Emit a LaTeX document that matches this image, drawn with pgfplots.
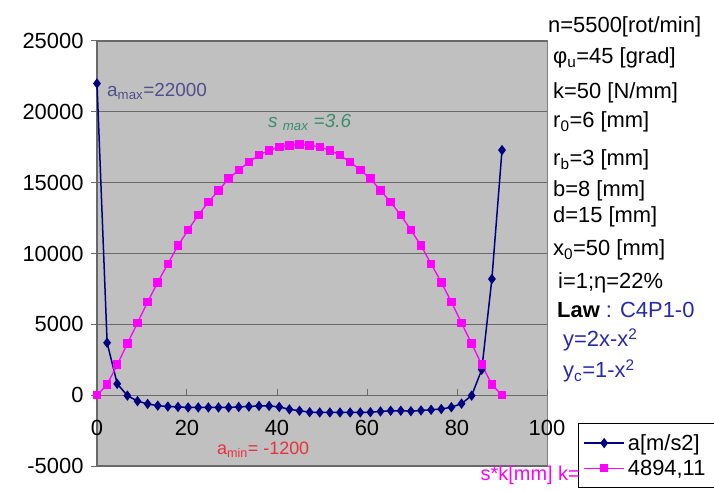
\documentclass[border=0pt]{standalone}
\usepackage{pgfplots}
\pgfplotsset{compat=1.18}
\usepackage{fontspec}
\setmainfont{Liberation Sans}

\definecolor{navyA}{RGB}{0,0,128}
\definecolor{magS}{RGB}{255,0,255}
\definecolor{plotgray}{RGB}{192,192,192}
\definecolor{gridgray}{RGB}{105,105,105}
\definecolor{lawblue}{RGB}{40,40,170}
\definecolor{amaxc}{RGB}{80,80,140}
\definecolor{smaxc}{RGB}{60,140,110}
\definecolor{aminc}{RGB}{230,50,60}

% a[m/s2] against angle
\pgfplotstableread{
x a
0 22000
2.25 3700
4.5 800
6.75 -30
9 -420
11.25 -620
13.5 -740
15.75 -800
18 -830
20.25 -870
22.5 -870
24.75 -870
27 -870
29.25 -870
31.5 -830
33.75 -800
36 -760
38.25 -760
40.5 -830
42.75 -1000
45 -1100
47.25 -1200
49.5 -1220
51.75 -1220
54 -1220
56.25 -1220
58.5 -1220
60.75 -1200
63 -1150
65.25 -1100
67.5 -1100
69.75 -1130
72 -1080
74.25 -1030
76.5 -980
78.75 -850
81 -600
83.25 -30
85.5 1800
87.75 8200
90 17300
}\accel

% s*k
\pgfplotstableread{
x s
0 0
2.25 750
4.5 2150
6.75 3640
9 5100
11.25 6580
13.5 7970
15.75 9270
18 10560
20.25 11660
22.5 12710
24.75 13630
27 14450
29.25 15280
31.5 15900
33.75 16450
36 16960
38.25 17270
40.5 17530
42.75 17630
45 17700
47.25 17630
49.5 17530
51.75 17270
54 16960
56.25 16450
58.5 15900
60.75 15280
63 14450
65.25 13630
67.5 12710
69.75 11660
72 10560
74.25 9270
76.5 7970
78.75 6580
81 5100
83.25 3640
85.5 2150
87.75 750
90 0
}\stroke

\begin{document}
\begin{tikzpicture}
\begin{axis}[
  scale only axis, width=450bp, height=425bp,
  xmin=0, xmax=100, ymin=-5000, ymax=25000,
  axis x line=middle, axis y line=left,
  hide obscured x ticks=false,
  axis line style={-, draw=gridgray, line width=1.2bp},
  axis background/.style={fill=plotgray, draw=gray, line width=1bp},
  xtick={0,20,...,100}, ytick={-5000,0,...,25000},
  ymajorgrids, grid style={gridgray, line width=1.2bp},
  tick label style={font=\fontsize{22}{26}\selectfont, black},
  /pgf/number format/assume math mode=true,
  /pgf/number format/1000 sep={},
  scaled y ticks=false,
  ytick align=outside,
  major tick length=6bp,
  tick style={gridgray, line width=1bp},
  major x tick style={yshift=3bp},
  xticklabel style={yshift=-19bp},
  yticklabel style={xshift=-4bp},
  clip=false,
  legend style={at={(axis description cs:1.0689,0.1012)}, anchor=north west,
    draw=black, line width=0.8bp, fill=white,
    font=\fontsize{22}{26}\selectfont,
    inner xsep=5bp, inner ysep=8bp, row sep=2bp, nodes={inner sep=3bp}},
  legend cell align=left,
  legend image code/.code={\draw[#1, mark repeat=2, mark phase=2]
    plot coordinates {(0bp,0bp) (20bp,0bp) (40bp,0bp)};},
]
\addplot[navyA, line width=1.5bp, mark=diamond*, mark size=4bp,
  mark options={fill=navyA, draw=navyA, solid}] table[x=x, y=a] {\accel};
\addlegendentry{a[m/s2]\hphantom{MMMM}}
\addplot[magS, line width=1.3bp, mark=square*, mark size=3.6bp,
  mark options={fill=magS, draw=magS, solid}] table[x=x, y=s] {\stroke};
\addlegendentry{4894,11\rule[-20bp]{0pt}{0pt}}
\end{axis}

% parameter list on the right
\begin{scope}[every node/.style={anchor=base west, inner sep=0pt, font=\fontsize{22}{26}\selectfont}]
\node at (451bp,433bp) {n=5500[rot/min]};
\node at (456bp,402bp) {φ\textsubscript{u}=45 [grad]};
\node at (456bp,367bp) {k=50 [N/mm]};
\node at (456bp,338bp) {r\textsubscript{0}=6 [mm]};
\node at (456bp,300bp) {r\textsubscript{b}=3 [mm]};
\node at (456bp,269bp) {b=8 [mm]};
\node at (456bp,243bp) {d=15 [mm]};
\node at (456bp,210bp) {x\textsubscript{0}=50 [mm]};
\node at (461bp,177bp) {i=1;η=22\%};
\node at (460bp,148bp) {\textbf{Law} \textcolor{lawblue}{: C4P1-0}};
\node[lawblue] at (466bp,119bp) {y=2x-x\textsuperscript{2}};
\node[lawblue] at (466bp,88bp) {y\textsubscript{c}=1-x\textsuperscript{2}};
\end{scope}

% annotations
\node[anchor=base west, inner sep=0pt, amaxc, font=\fontsize{19}{22}\selectfont]
  at (10bp,369bp) {a\textsubscript{max}=22000};
\node[anchor=base west, inner sep=0pt, smaxc, font=\fontsize{19}{22}\selectfont\itshape]
  at (171bp,338bp) {s \textsubscript{max} =3.6};
\node[anchor=base west, inner sep=0pt, aminc, font=\fontsize{18}{22}\selectfont]
  at (120bp,12bp) {a\textsubscript{min}= -1200};
\node[anchor=base east, inner sep=0pt, magS, font=\fontsize{20}{24}\selectfont]
  at (483bp,-14bp) {s*k[mm] k=};

\pgfresetboundingbox
\path[use as bounding box] (-97bp,-25bp) rectangle (617bp,466bp);
\end{tikzpicture}
\end{document}
